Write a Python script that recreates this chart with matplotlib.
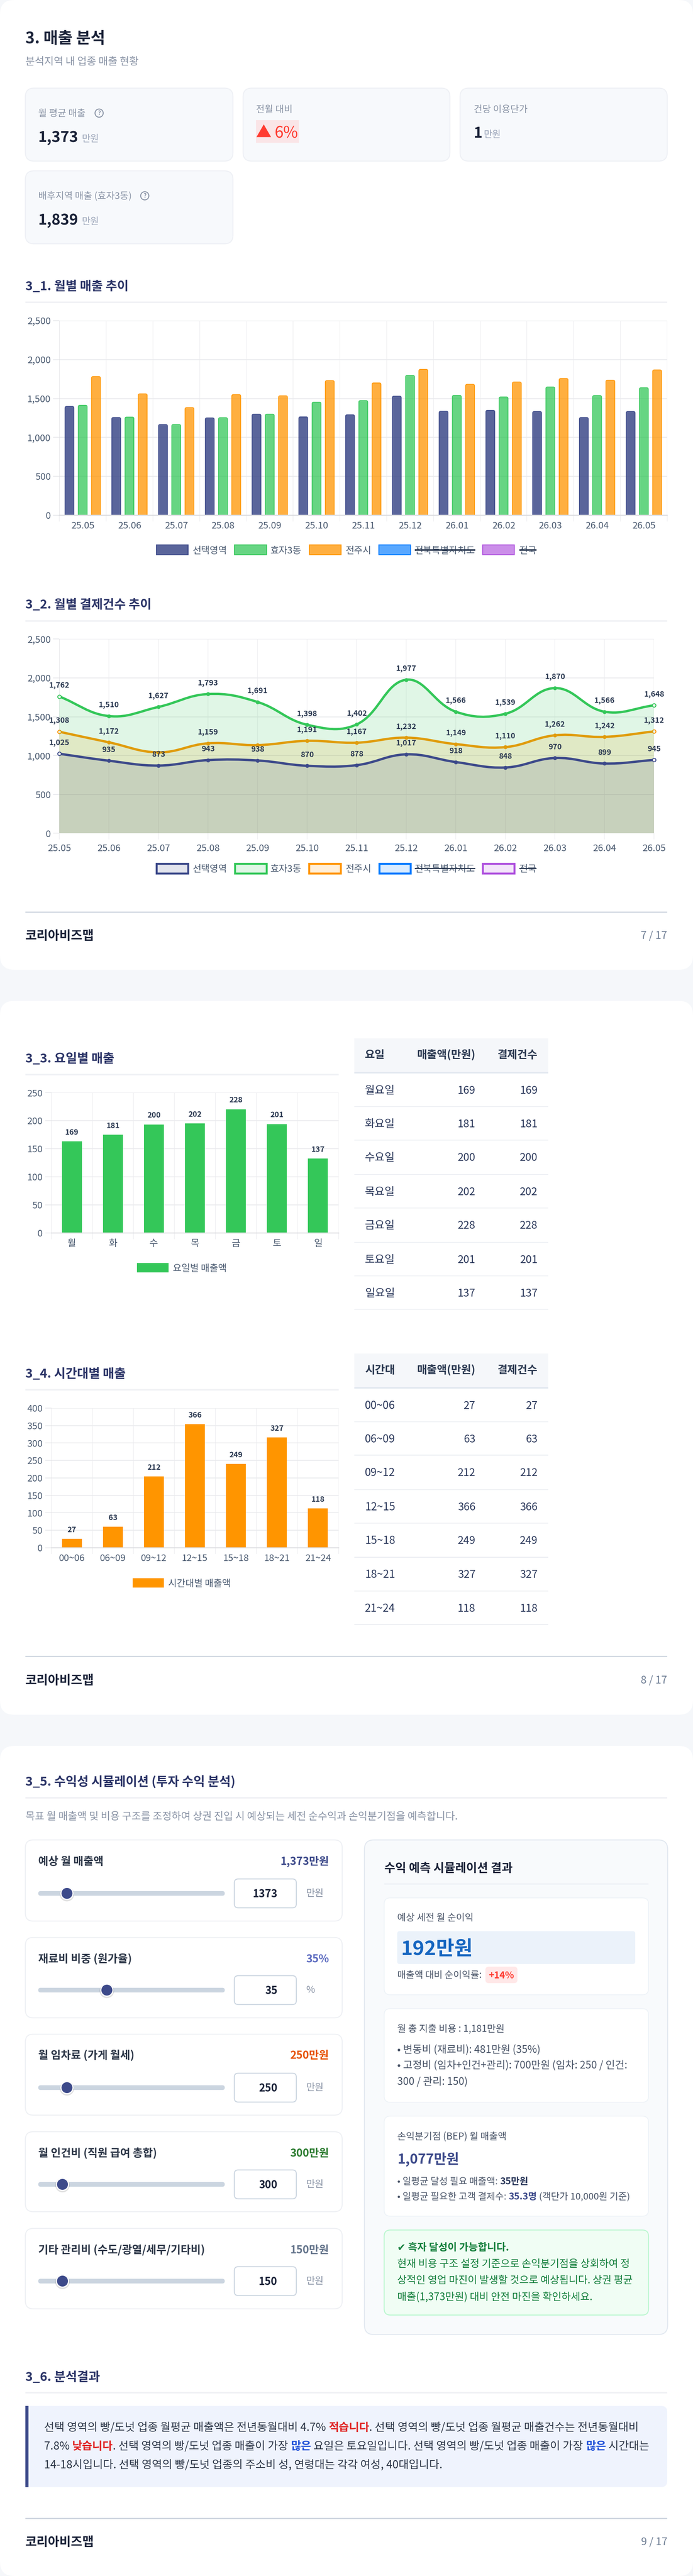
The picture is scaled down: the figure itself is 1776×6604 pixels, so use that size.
"""
Sales analysis report pages (3. 매출 분석), drawn on one tall pixel-mapped figure.
"""

import matplotlib

matplotlib.use("Agg")

import matplotlib.pyplot as plt
from matplotlib.colors import to_rgba
from matplotlib.patches import Circle, FancyBboxPatch, PathPatch, Rectangle
from matplotlib.path import Path
from matplotlib.ticker import FuncFormatter

plt.rcParams["font.family"] = ["Noto Sans CJK KR", "DejaVu Sans"]

W, H = 1776, 6604

# monthly charts
months = ["25.05", "25.06", "25.07", "25.08", "25.09", "25.10", "25.11",
          "25.12", "26.01", "26.02", "26.03", "26.04", "26.05"]
region_names = ["선택영역", "효자3동", "전주시", "전북특별자치도", "전국"]

sales_selected = [1398, 1256, 1166, 1251, 1299, 1264, 1291, 1530, 1336, 1348, 1333, 1256, 1333]
sales_hyoja = [1413, 1261, 1166, 1254, 1299, 1453, 1473, 1797, 1540, 1520, 1648, 1538, 1638]
sales_jeonju = [1782, 1560, 1383, 1550, 1535, 1730, 1700, 1874, 1682, 1712, 1757, 1735, 1867]

count_selected = [1025, 935, 873, 943, 938, 870, 878, 1017, 918, 848, 970, 899, 945]
count_hyoja = [1762, 1510, 1627, 1793, 1691, 1398, 1402, 1977, 1566, 1539, 1870, 1566, 1648]
count_jeonju = [1308, 1172, 1043, 1159, 1136, 1191, 1167, 1232, 1149, 1110, 1262, 1242, 1312]
# the picture prints no value for these two orange points
count_jeonju_unlabeled = ["25.07", "25.09"]

# weekday / time-of-day: the printed numbers and the drawn heights differ a little
weekdays = ["월", "화", "수", "목", "금", "토", "일"]
weekday_rows = ["월요일", "화요일", "수요일", "목요일", "금요일", "토요일", "일요일"]
weekday_values = [169, 181, 200, 202, 228, 201, 137]
weekday_bars = [163.4, 175, 193.4, 195.4, 220.5, 194.3, 132.5]

timeslots = ["00~06", "06~09", "09~12", "12~15", "15~18", "18~21", "21~24"]
timeslot_values = [27, 63, 212, 366, 249, 327, 118]
timeslot_bars = [25.3, 60.2, 204.4, 354, 240, 316, 112.8]

# simulator
slider_labels = ["예상 월 매출액", "재료비 비중 (원가율)", "월 임차료 (가게 월세)",
                 "월 인건비 (직원 급여 총합)", "기타 관리비 (수도/광열/세무/기타비)"]
slider_values = ["1,373만원", "35%", "250만원", "300만원", "150만원"]
slider_inputs = ["1373", "35", "250", "300", "150"]
slider_units = ["만원", "%", "만원", "만원", "만원"]
slider_fractions = [0.154, 0.368, 0.154, 0.130, 0.130]

NAVY = "#3d4a8a"
GREEN = "#34c759"
ORANGE = "#ff9500"
BLUE = "#007aff"
PURPLE = "#af52de"
INK = "#2c3a52"
TITLE = "#2b3467"
GRID = "#e9eaed"

fig = plt.figure(figsize=(W / 100, H / 100), dpi=100, facecolor="#f5f7fa")
page = fig.add_axes([0, 0, 1, 1])
page.set_xlim(0, W)
page.set_ylim(H, 0)
page.axis("off")
renderer = fig.canvas.get_renderer()


def t(x, yc, s, size, color=INK, weight="normal", ha="left", zorder=5):
    # yc is the visual middle of the line, size is in pixels
    return page.text(x, yc + 0.36 * size, s, fontsize=size * 0.72, color=color,
                     fontweight=weight, ha=ha, va="baseline", zorder=zorder)


def text_width(s, size, weight="normal"):
    # trailing spaces are not measured unless something follows them
    probe = page.text(0, 0, s + "|", fontsize=size * 0.72, fontweight=weight)
    bar = page.text(0, 0, "|", fontsize=size * 0.72, fontweight=weight)
    w = probe.get_window_extent(renderer).width - bar.get_window_extent(renderer).width
    probe.remove()
    bar.remove()
    return w


def rich_line(x, yc, runs, size):
    for s, color, weight in runs:
        t(x, yc, s, size, color, weight)
        x += text_width(s, size, weight)


def box(x0, y0, x1, y1, r, fc, ec="none", lw=0, zorder=1):
    patch = FancyBboxPatch((x0, y0), x1 - x0, y1 - y0,
                           boxstyle=f"round,pad=0,rounding_size={r}",
                           fc=fc, ec=ec, lw=lw * 0.72, zorder=zorder)
    page.add_patch(patch)
    return patch


def rule(x0, x1, y, thick, color="#f0f1f5"):
    page.add_patch(Rectangle((x0, y - thick / 2), x1 - x0, thick, fc=color, ec="none", zorder=2))


def section(x1, y_title, y_rule, s):
    t(65, y_title, s, 32, TITLE, "bold")
    rule(65, x1, y_rule, 4)


def footer(y_rule, y_text, page_no):
    rule(65, 1710, y_rule, 3, "#cfd6e0")
    t(65, y_text, "코리아비즈맵", 32, "#1a2238", "bold")
    t(1710, y_text, page_no, 27, "#718096", ha="right")


def chart_axes(x0, y0, x1, y1):
    ax = fig.add_axes([x0 / W, 1 - y1 / H, (x1 - x0) / W, (y1 - y0) / H])
    ax.patch.set_alpha(0)
    for spine in ax.spines.values():
        spine.set_visible(False)
    ax.set_axisbelow(True)
    ax.grid(True, axis="y", color=GRID, lw=2 * 0.72)
    ax.grid(True, axis="x", color="#eeeff1", lw=1.5 * 0.72)
    ax.tick_params(axis="y", length=16 * 0.72, width=2 * 0.72, color=GRID,
                   labelsize=24 * 0.72, labelcolor="#4a5a70", pad=6 * 0.72)
    ax.yaxis.set_major_formatter(FuncFormatter(lambda v, _: f"{int(v):,}"))
    return ax


def category_ticks(ax, labels, label_size=24):
    # gridlines sit between categories and run past the axis, labels sit in the middle
    n = len(labels)
    ax.set_xlim(-0.5, n - 0.5)
    ax.set_xticks([i - 0.5 for i in range(n + 1)])
    ax.set_xticklabels([])
    ax.set_xticks(range(n), labels=labels, minor=True)
    ax.tick_params(axis="x", which="major", length=16 * 0.72, width=1.5 * 0.72, color="#eeeff1")
    ax.tick_params(axis="x", which="minor", length=0, labelsize=label_size * 0.72,
                   labelcolor="#4a5a70", pad=16 * 0.72)
    ax.axhline(0, color="#dcdde0", lw=2.5 * 0.72, zorder=3, clip_on=False)
    ax.axvline(-0.5, color="#dcdde0", lw=1.5 * 0.72, zorder=1)


def rounded_bar(ax, x, w, h, r_px, fc, ec):
    # chart.js style bar with small rounded top corners
    bbox = ax.get_position()
    px_x = bbox.width * W / (ax.get_xlim()[1] - ax.get_xlim()[0])
    px_y = bbox.height * H / (ax.get_ylim()[1] - ax.get_ylim()[0])
    rx, ry = r_px / px_x, r_px / px_y
    left, right = x - w / 2, x + w / 2
    verts = [(left, 0), (left, h - ry), (left, h), (left + rx, h), (right - rx, h),
             (right, h), (right, h - ry), (right, 0)]
    codes = [Path.MOVETO, Path.LINETO, Path.CURVE3, Path.CURVE3, Path.LINETO,
             Path.CURVE3, Path.CURVE3, Path.LINETO]
    ax.add_patch(PathPatch(Path(verts, codes), fc=fc, ec=ec, lw=1.8 * 0.72, zorder=2))


def spline_path(xs, ys, px_x, px_y, tension=0.4):
    # same control points as chart.js uses for a line with tension
    pts = list(zip(xs, ys))
    n = len(pts)
    ctrl = []
    for i, (cx, cy) in enumerate(pts):
        px, py = pts[max(i - 1, 0)]
        nx, ny = pts[min(i + 1, n - 1)]
        d01 = (((cx - px) * px_x) ** 2 + ((cy - py) * px_y) ** 2) ** 0.5
        d12 = (((nx - cx) * px_x) ** 2 + ((ny - cy) * px_y) ** 2) ** 0.5
        total = d01 + d12
        fa, fb = tension * d01 / total, tension * d12 / total
        ctrl.append(((cx - fa * (nx - px), cy - fa * (ny - py)),
                     (cx + fb * (nx - px), cy + fb * (ny - py))))
    verts = [pts[0]]
    codes = [Path.MOVETO]
    for i in range(n - 1):
        verts += [ctrl[i][1], ctrl[i + 1][0], pts[i + 1]]
        codes += [Path.CURVE4] * 3
    return verts, codes


def legend_item(x0, x1, yc, height, label, label_x, fc, ec, lw, hidden=False, size=24):
    page.add_patch(Rectangle((x0, yc - height / 2), x1 - x0, height, fc=fc, ec=ec,
                             lw=lw * 0.72, zorder=3))
    t(label_x, yc, label, size, "#4a5a70")
    if hidden:
        w = text_width(label, size)
        rule(label_x, label_x + w, yc, 3.5, INK)
        page.patches[-1].set_zorder(6)


# ---------------------------------------------------------------- page backgrounds
box(0, 0, W, 2486, 36, "white")
box(0, 2566, W, 4396, 36, "white")
box(0, 4476, W, 6604, 36, "white")

# ---------------------------------------------------------------- page 7, KPI cards
t(65, 96, "3. 매출 분석", 40.5, "#1a2238", "bold")
t(65, 156, "분석지역 내 업종 매출 현황", 26.4, "#8a94a6")


def kpi_card(x0, y0, x1, y1):
    box(x0, y0, x1, y1, 22, "#f7f9fc", "#eef0f5", 2.5)


def help_icon(x, y):
    page.add_patch(Circle((x, y), 10.5, fc="none", ec="#8a94a6", lw=2.4 * 0.72, zorder=5))
    t(x, y, "?", 15, "#8a94a6", "bold", ha="center")


kpi_card(65, 226, 597, 413)
t(98, 289, "월 평균 매출", 24, "#8a94a6")
help_icon(254, 290)
t(98, 350, "1,373", 38.4, "#1a2238", "bold")
t(210, 354, "만원", 24, "#9aa4b8")

kpi_card(623, 226, 1153, 413)
t(656, 279, "전월 대비", 24, "#8a94a6")
page.add_patch(Rectangle((656, 308), 110, 58, fc="#fae5e7", ec="none", zorder=3))
t(656, 337, "▲", 40, "#ff3b30", zorder=5)
t(704, 339, "6%", 41, "#ff3b30")

kpi_card(1179, 226, 1710, 413)
t(1214, 279, "건당 이용단가", 24, "#8a94a6")
t(1214, 339, "1", 38.4, "#1a2238", "bold")
t(1240, 343, "만원", 24, "#9aa4b8")

kpi_card(65, 438, 597, 625)
t(98, 501, "배후지역 매출 (효자3동)", 24, "#8a94a6")
help_icon(371, 502)
t(98, 562, "1,839", 38.4, "#1a2238", "bold")
t(210, 566, "만원", 24, "#9aa4b8")

# ---------------------------------------------------------------- 3_1 monthly sales
section(1710, 732, 775.5, "3_1. 월별 매출 추이")
ax = chart_axes(152, 822, 1710, 1321)
ax.set_ylim(0, 2500)
ax.set_yticks(range(0, 2501, 500))
category_ticks(ax, months)
series = [(sales_selected, NAVY, 0.85, -0.2833), (sales_hyoja, GREEN, 0.75, 0.0),
          (sales_jeonju, ORANGE, 0.75, 0.2833)]
for values, color, alpha, offset in series:
    for i, v in enumerate(values):
        rounded_bar(ax, i + offset, 0.19, v, 4, to_rgba(color, alpha), color)

for (x0, x1, lx), name, color, alpha, hidden in zip(
        [(401, 482, 494), (601, 683, 693), (793, 874, 886), (971, 1052, 1063), (1237, 1318, 1331)],
        region_names, [NAVY, GREEN, ORANGE, BLUE, PURPLE], [0.85, 0.75, 0.75, 0.65, 0.65],
        [False, False, False, True, True]):
    legend_item(x0, x1, 1410, 25, name, lx, to_rgba(color, alpha), color, 2.5, hidden)

# ---------------------------------------------------------------- 3_2 monthly payment counts
section(1710, 1548, 1592, "3_2. 월별 결제건수 추이")
ax = chart_axes(152, 1638.5, 1676, 2136.5)
ax.set_xlim(0, 12)
ax.set_ylim(0, 2500)
ax.set_yticks(range(0, 2501, 500))
ax.set_xticks(range(13), labels=months)
ax.tick_params(axis="x", length=16 * 0.72, width=1.5 * 0.72, color="#eeeff1",
               labelsize=24 * 0.72, labelcolor="#4a5a70", pad=12 * 0.72)
ax.axhline(0, color="#dcdde0", lw=2 * 0.72, zorder=1)
ax.axvline(0, color="#dcdde0", lw=1.5 * 0.72, zorder=1)

px_per_month = (1676 - 152) / 12
px_per_unit = (2136.5 - 1638.5) / 2500
xs = list(range(13))
# chart.js paints the last dataset first, so later fills tint earlier lines
for zo, (values, color) in enumerate([(count_jeonju, ORANGE), (count_hyoja, GREEN),
                                      (count_selected, NAVY)]):
    verts, codes = spline_path(xs, values, px_per_month, px_per_unit)
    fill_verts = verts + [(12, 0), (0, 0), verts[0]]
    fill_codes = codes + [Path.LINETO, Path.LINETO, Path.CLOSEPOLY]
    ax.add_patch(PathPatch(Path(fill_verts, fill_codes), fc=to_rgba(color, 0.15), ec="none",
                           zorder=2 + zo))
    ax.add_patch(PathPatch(Path(verts, codes), fc="none", ec=color, lw=6 * 0.72,
                           clip_on=False, zorder=2 + zo))
    ax.plot(xs[1:-1], values[1:-1], "o", color=color, ms=10 * 0.72, mew=0, zorder=2 + zo,
            clip_on=False)
    ax.plot([xs[0], xs[-1]], [values[0], values[-1]], "o", mfc="#f4f6f4", mec=color,
            ms=9 * 0.72, mew=2.2 * 0.72, zorder=2 + zo, clip_on=False)

for values in (count_selected, count_hyoja, count_jeonju):
    for i, v in enumerate(values):
        if values is count_jeonju and months[i] in count_jeonju_unlabeled:
            continue
        ax.annotate(f"{v:,}", (i, v), xytext=(0, 28 * 0.72), textcoords="offset points",
                    ha="center", va="center", fontsize=19.5 * 0.72, color=INK,
                    fontweight="bold", zorder=9, annotation_clip=False)

for (x0, x1, lx), name, color, hidden in zip(
        [(401, 482, 494), (602, 683, 693), (792, 873, 886), (972, 1052, 1063), (1237, 1318, 1331)],
        region_names, [NAVY, GREEN, ORANGE, BLUE, PURPLE], [False, False, False, True, True]):
    legend_item(x0, x1, 2226.5, 25, name, lx, to_rgba(color, 0.15), color, 5, hidden)

footer(2339, 2397, "7 / 17")


# ---------------------------------------------------------------- 3_3 / 3_4 bars and tables
def bar_panel(ax_box, ymax, step, labels, drawn, values, color, legend_name, legend_x, label_size=24):
    ax = chart_axes(*ax_box)
    ax.set_ylim(0, ymax)
    ax.set_yticks(range(0, ymax + 1, step))
    category_ticks(ax, labels, label_size)
    ax.bar(range(len(labels)), drawn, width=0.485, color=color, zorder=2)
    for i, (h, v) in enumerate(zip(drawn, values)):
        ax.annotate(str(v), (i, h), xytext=(0, 23 * 0.72), textcoords="offset points",
                    ha="center", va="center", fontsize=19.5 * 0.72, color=INK,
                    fontweight="bold", zorder=6)
    x0, x1, lx, yc = legend_x
    legend_item(x0, x1, yc, 24, legend_name, lx, color, "none", 0)


def data_table(y_head0, y_head1, y_head_text, row_ys, line_ys, first_head, rows, values):
    page.add_patch(Rectangle((908, y_head0), 497, y_head1 - y_head0, fc="#f5f7fa", ec="none", zorder=2))
    rule(908, 1405, y_head1 - 2, 4, "#e2e8f0")
    t(935, y_head_text, first_head, 28, INK, "bold")
    t(1218.5, y_head_text, "매출액(만원)", 28, INK, "bold", ha="right")
    t(1378, y_head_text, "결제건수", 28, INK, "bold", ha="right")
    for row, v, y in zip(rows, values, row_ys):
        t(935, y, row, 28, "#2d3a5c")
        t(1218.5, y, str(v), 27.5, "#2d3a5c", ha="right")
        t(1378, y, str(v), 27.5, "#2d3a5c", ha="right")
    for y in line_ys:
        rule(908, 1405, y, 2.5, "#eef0f4")


section(867.5, 2712.5, 2755.5, "3_3. 요일별 매출")
bar_panel((131.5, 2801.5, 867.5, 3161), 250, 50, weekdays, weekday_bars, weekday_values, GREEN,
          "요일별 매출액", (351, 431.5, 443, 3250))
data_table(2662, 2752, 2703, [2794, 2880, 2966, 3054, 3140, 3228, 3314],
           [2837, 2923, 3011, 3097, 3185, 3271, 3357], "요일", weekday_rows, weekday_values)

section(867.5, 3520, 3563, "3_4. 시간대별 매출")
bar_panel((131.5, 3610, 867.5, 3968), 400, 50, timeslots, timeslot_bars, timeslot_values, ORANGE,
          "시간대별 매출액", (340, 420, 431, 4058))
data_table(3470, 3560, 3511, [3602, 3688, 3774, 3862, 3948, 4035, 4122],
           [3645, 3730.5, 3819, 3905, 3992.5, 4079, 4164.5], "시간대", timeslots, timeslot_values)

footer(4246.5, 4306, "8 / 17")

# ---------------------------------------------------------------- 3_5 simulator, left column
section(1710, 4566, 4609.5, "3_5. 수익성 시뮬레이션 (투자 수익 분석)")
t(65, 4655.5, "목표 월 매출액 및 비용 구조를 조정하여 상권 진입 시 예상되는 세전 순수익과 손익분기점을 예측합니다.",
  26.4, "#8a94a6")

slider_cards = [(4717, 4925, 4771, 4854), (4967, 5173, 5021, 5102), (5215, 5422.5, 5268.5, 5352),
                (5465, 5670, 5519.5, 5600), (5713, 5919, 5767, 5848)]
slider_value_colors = [NAVY, "#5c6bc0", "#e65100", "#2e7d32", "#64748b"]

for (y0, y1, y_label, y_track), label, value, vcolor, entry, unit, frac in zip(
        slider_cards, slider_labels, slider_values, slider_value_colors, slider_inputs,
        slider_units, slider_fractions):
    box(65, y0, 877, y1, 20, "white", "#eef0f4", 2.5)
    t(98, y_label, label, 28, "#2d3748", "bold")
    t(843, y_label, value, 27.6, vcolor, "bold", ha="right")
    box(98, y_track - 6, 576, y_track + 6, 6, "#cbd5e0", zorder=3)
    thumb_x = 98 + frac * 478
    page.add_patch(Circle((thumb_x, y_track + 2), 18.5, fc=(0, 0, 0, 0.12), ec="none", zorder=4))
    page.add_patch(Circle((thumb_x, y_track), 17, fc="white", ec="none", zorder=4))
    page.add_patch(Circle((thumb_x, y_track), 14, fc=NAVY, ec="none", zorder=4))
    box(600.5, y_track - 37, 759.5, y_track + 37, 10, "white", "#cbd5e0", 2.5, zorder=3)
    t(711, y_track, entry, 27, "#1a2238", "bold", ha="right")
    t(785, y_track - 2, unit, 24.5, "#8a94a6")

# ---------------------------------------------------------------- 3_5 simulator, result column
box(934, 4717, 1711, 5985, 24, "#f8fafc", "#e2e8f0", 2.5)
t(984.5, 4788, "수익 예측 시뮬레이션 결과", 30.4, "#1a2238", "bold")
rule(984.5, 1662, 4830.5, 2, "#e2e8f0")

box(984.5, 4865.5, 1662, 5114, 16, "white", "#edf2f7", 2)
t(1018, 4915.5, "예상 세전 월 순이익", 24.3, "#4a5568")
box(1018, 4951, 1628, 5035, 6, "#ebf2fa", zorder=2)
t(1027.5, 4994, "192만원", 51, "#1565c0", "bold")
t(1018, 5062, "매출액 대비 순이익률:", 24.1, "#4a5568")
box(1244, 5042, 1326, 5084, 8, "#ffe8e8", zorder=2)
t(1285, 5063, "+14%", 24, "#ff3b30", "bold", ha="center")

box(984.5, 5149.5, 1662, 5389.5, 16, "white", "#edf2f7", 2)
t(1018, 5200.5, "월 총 지출 비용 : 1,181만원", 24.4, "#4a5568")
t(1018, 5253, "• 변동비 (재료비): 481만원 (35%)", 26.4, "#4a5568")
t(1018, 5293, "• 고정비 (임차+인건+관리): 700만원 (임차: 250 / 인건:", 26.4, "#4a5568")
t(1018, 5335, "300 / 관리: 150)", 26.4, "#4a5568")

box(984.5, 5425, 1662, 5681.5, 16, "white", "#edf2f7", 2)
t(1018, 5476, "손익분기점 (BEP) 월 매출액", 24.3, "#4a5568")
t(1018, 5535, "1,077만원", 35, NAVY, "bold")
rich_line(1018, 5591.5, [("• 일평균 달성 필요 매출액: ", "#4a5568", "normal"),
                         ("35만원", "#2d3a5c", "bold")], 24)
rich_line(1018, 5630, [("• 일평균 필요한 고객 결제수: ", "#4a5568", "normal"),
                       ("35.3명", NAVY, "bold"),
                       (" (객단가 10,000원 기준)", "#4a5568", "normal")], 24)

box(984.5, 5717, 1662, 5935, 16, "#f0fdf4", "#bbf7d0", 2.5)
t(1018, 5761, "✔ 흑자 달성이 가능합니다.", 26, "#15803d", "bold")
t(1018, 5803, "현재 비용 구조 설정 기준으로 손익분기점을 상회하여 정", 26.3, "#15803d")
t(1018, 5845, "상적인 영업 마진이 발생할 것으로 예상됩니다. 상권 평균", 26.3, "#15803d")
t(1018, 5887, "매출(1,373만원) 대비 안전 마진을 확인하세요.", 26.3, "#15803d")

# ---------------------------------------------------------------- 3_6 conclusions
section(1710, 6092, 6134, "3_6. 분석결과")
box(65, 6168, 1710, 6376, 16, "#eff3fd")
page.add_patch(Rectangle((65, 6168), 24, 208, fc="#eff3fd", ec="none", zorder=2))
page.add_patch(Rectangle((65, 6168), 8, 208, fc=NAVY, ec="none", zorder=3))

RED = "#e02424"
LINK = "#1d4ed8"
body = "#2d3748"
rich_line(113, 6221.5, [("선택 영역의 빵/도넛 업종 월평균 매출액은 전년동월대비 4.7% ", body, "normal"),
                        ("적습니다", RED, "bold"),
                        (". 선택 영역의 빵/도넛 업종 월평균 매출건수는 전년동월대비", body, "normal")], 28.4)
rich_line(113, 6270, [("7.8% ", body, "normal"), ("낮습니다", RED, "bold"),
                      (". 선택 영역의 빵/도넛 업종 매출이 가장 ", body, "normal"), ("많은", LINK, "bold"),
                      (" 요일은 토요일입니다. 선택 영역의 빵/도넛 업종 매출이 가장 ", body, "normal"),
                      ("많은", LINK, "bold"), (" 시간대는", body, "normal")], 28.4)
rich_line(113, 6318, [("14-18시입니다. 선택 영역의 빵/도넛 업종의 주소비 성, 연령대는 각각 여성, 40대입니다.",
                       body, "normal")], 28.4)

footer(6457, 6515.5, "9 / 17")

fig.savefig("out.png", dpi=100, facecolor=fig.get_facecolor())
